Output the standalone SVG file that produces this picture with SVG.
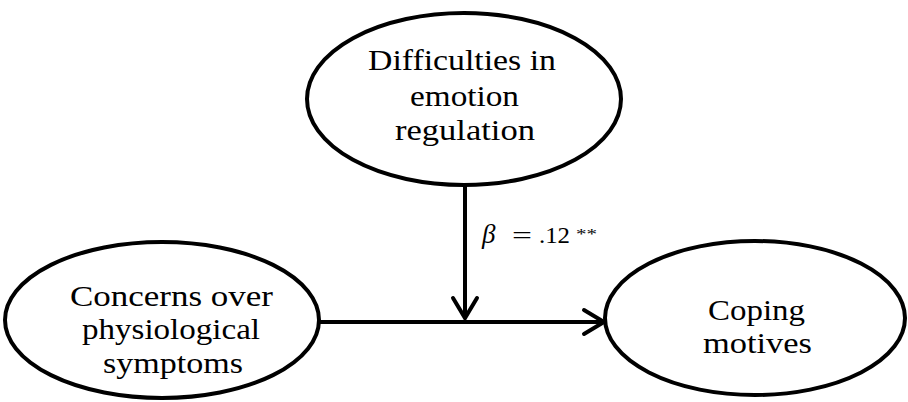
<svg xmlns="http://www.w3.org/2000/svg" width="908" height="402" viewBox="0 0 908 402">
<style>
.node ellipse{fill:#fff;stroke:#000;stroke-width:4}
.lbl{font-family:"Liberation Serif","Times New Roman",serif;font-size:30px;fill:#000;text-anchor:middle}
.edge{stroke:#000;stroke-width:4;fill:none}
.head{stroke:#000;stroke-width:4;fill:none;stroke-linecap:round;stroke-linejoin:miter}
.b{font-family:"Liberation Serif","Times New Roman",serif;fill:#000}
</style>
<rect width="908" height="402" fill="#fff"/>
<g id="connectors">
<line class="edge" x1="465" y1="186" x2="465" y2="318"/>
<polyline class="head" points="453,298 465,318 477,298"/>
<line class="edge" x1="318" y1="322" x2="604" y2="322"/>
<polyline class="head" points="584,310 604,322 584,334"/>
<g id="beta-label">
<text class="b" x="482" y="243" font-size="27" font-style="italic">β</text>
<text class="b" x="512" y="243" font-size="23" textLength="20" lengthAdjust="spacingAndGlyphs">=</text>
<text class="b" x="539" y="243" font-size="23" textLength="31" lengthAdjust="spacingAndGlyphs">.12</text>
<text class="b" x="576" y="239" font-size="15" textLength="21" lengthAdjust="spacingAndGlyphs">**</text>
</g>
</g>
<g id="node-difficulties" class="node">
<ellipse cx="464" cy="99" rx="157" ry="86"/>
<text class="lbl" x="462" y="70" textLength="188" lengthAdjust="spacingAndGlyphs">Difficulties in</text>
<text class="lbl" x="464.5" y="106" textLength="109" lengthAdjust="spacingAndGlyphs">emotion</text>
<text class="lbl" x="465" y="139.5" textLength="140" lengthAdjust="spacingAndGlyphs">regulation</text>
</g>
<g id="node-concerns" class="node">
<ellipse cx="162" cy="320" rx="157" ry="78"/>
<text class="lbl" x="171.5" y="305.5" textLength="203" lengthAdjust="spacingAndGlyphs">Concerns over</text>
<text class="lbl" x="171" y="339" textLength="178" lengthAdjust="spacingAndGlyphs">physiological</text>
<text class="lbl" x="173" y="373" textLength="140" lengthAdjust="spacingAndGlyphs">symptoms</text>
</g>
<g id="node-coping" class="node">
<ellipse cx="755" cy="318" rx="150" ry="77"/>
<text class="lbl" x="756.5" y="319.5" textLength="97" lengthAdjust="spacingAndGlyphs">Coping</text>
<text class="lbl" x="757.5" y="353" textLength="109" lengthAdjust="spacingAndGlyphs">motives</text>
</g>
</svg>
